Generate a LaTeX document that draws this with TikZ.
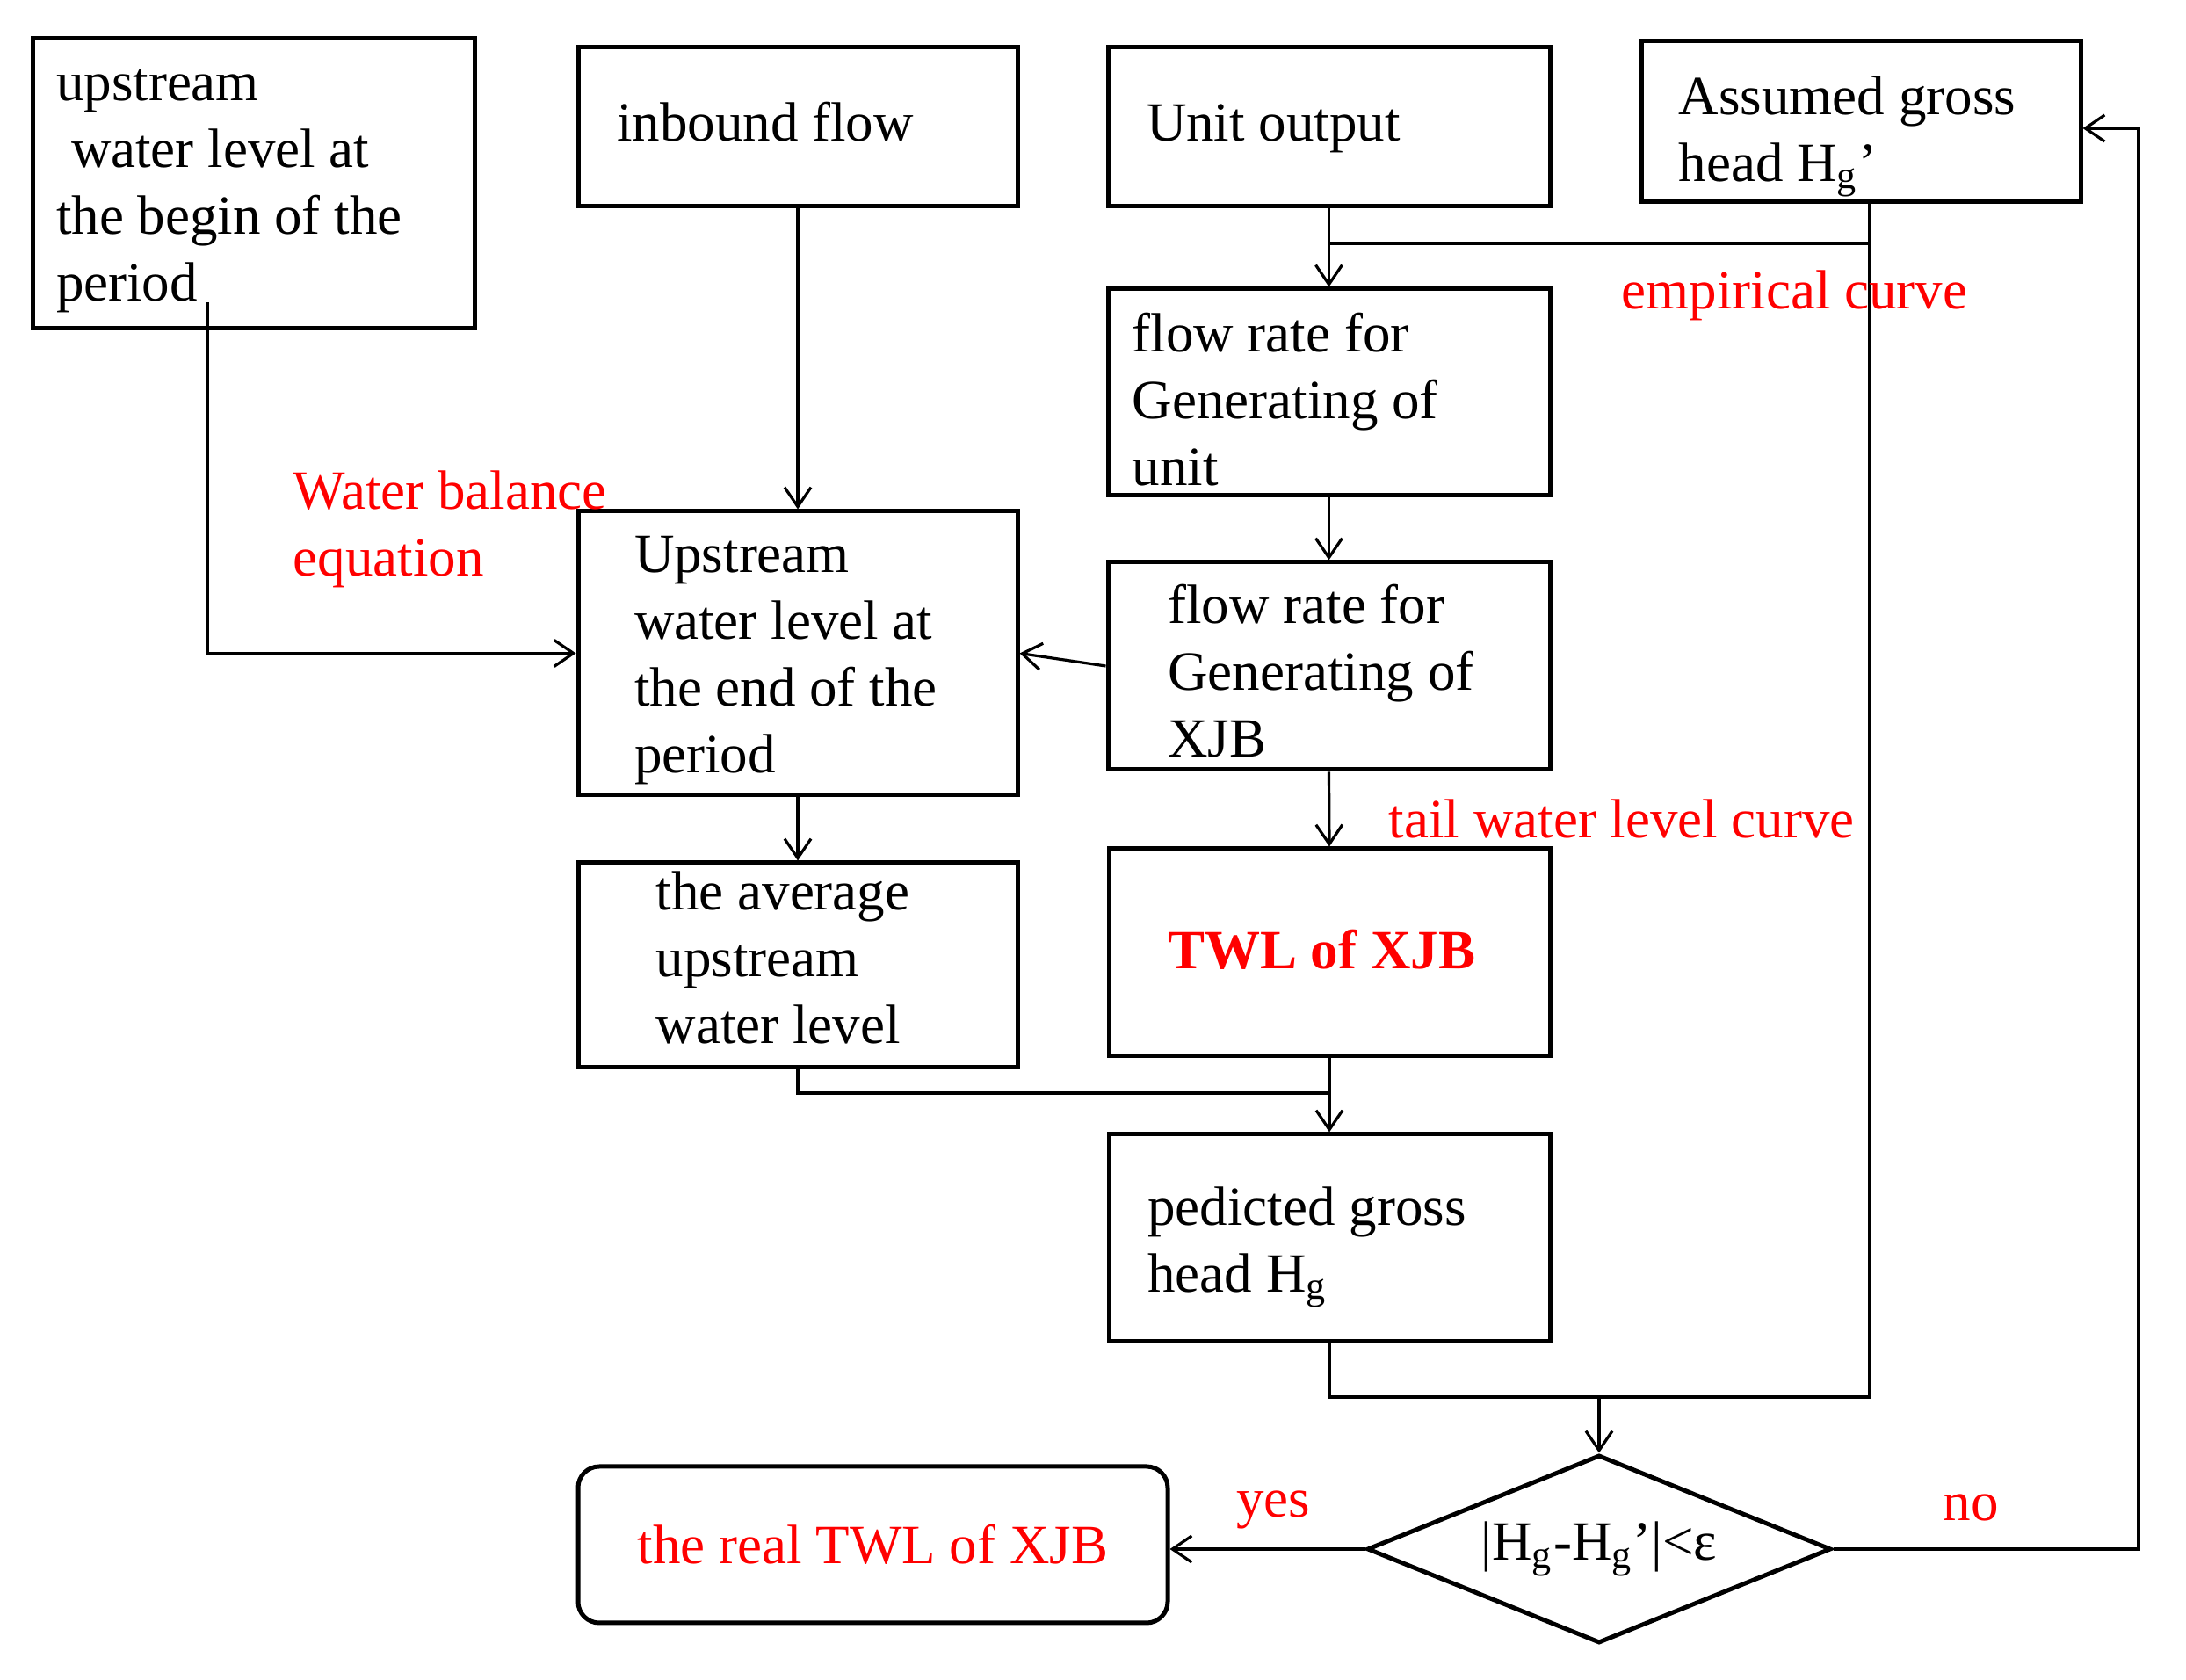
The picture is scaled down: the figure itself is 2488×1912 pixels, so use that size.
\documentclass[tikz,border=0pt]{standalone}
\usepackage{fontspec}
\setmainfont{Liberation Serif}
\usetikzlibrary{arrows.meta,shapes.geometric}
\newcommand\mybx[4]{\makebox[#1][l]{\hspace*{#2}\raisebox{#3}[\height][\depth]{\begin{tabular}{@{}l@{}}#4\end{tabular}}}}
\begin{document}
\begin{tikzpicture}[x=0.25pt,y=-0.25pt,
  every node/.style={font=\fontsize{15.75pt}{19pt}\selectfont},
  box/.style={draw, line width=1.25pt, inner sep=0pt},
  conn/.style={line width=1pt},
  arr/.style={line width=0.8pt,-{Straight Barb[length=5.5pt,width=7.5pt,line width=0.8pt]}},
  lbl/.style={text=red, inner sep=0pt, anchor=west, align=left}]
\useasboundingbox (0,0) rectangle (2488,1912);

\node[box, minimum width=125.75pt, minimum height=82.5pt] (b1) at (288.5,209) {\mybx{125.75pt}{6.75pt}{-1.2pt}{upstream\\\hspace*{4.25pt}water level at\\the begin of the\\period}};
\node[box, minimum width=125pt, minimum height=45.25pt] (inb) at (908,144.5) {\mybx{125pt}{11pt}{-0.3pt}{inbound flow}};
\node[box, minimum width=125.75pt, minimum height=45.25pt] (unit) at (1512.5,144.5) {\mybx{125.75pt}{11pt}{-0.3pt}{Unit output}};
\node[box, minimum width=125pt, minimum height=45.75pt] (asm) at (2118,138.5) {\mybx{125pt}{10.7pt}{-3.6pt}{Assumed gross\\head H\textsubscript{g}’}};
\node[box, minimum width=125.75pt, minimum height=58.75pt] (fu) at (1512.5,446.5) {\mybx{125.75pt}{6.9pt}{-3.6pt}{flow rate for\\Generating of\\unit}};
\node[box, minimum width=125pt, minimum height=80.75pt] (ue) at (908,743.5) {\mybx{125pt}{16pt}{-1.6pt}{Upstream\\water level at\\the end of the\\period}};
\node[box, minimum width=125.75pt, minimum height=59pt] (fx) at (1512.5,758) {\mybx{125.75pt}{17.1pt}{-3.2pt}{flow rate for\\Generating of\\XJB}};
\node[box, minimum width=125pt, minimum height=58.25pt] (avg) at (908,1098.5) {\mybx{125pt}{22.2pt}{0.6pt}{the average\\upstream\\water level}};
\node[box, minimum width=125.5pt, minimum height=59pt, text=red] (twl) at (1513,1084) {\mybx{125.5pt}{16.75pt}{-0.8pt}{\bfseries TWL of XJB}};
\node[box, minimum width=125.5pt, minimum height=59pt] (pred) at (1513,1409) {\mybx{125.5pt}{11.1pt}{-2pt}{pedicted gross\\head H\textsubscript{g}}};
\node[box, rounded corners=6pt, minimum width=167.75pt, minimum height=44.5pt, text=red] (real) at (993.5,1758) {the real TWL of XJB};
\node[draw, diamond, shape aspect=2.47, line width=1.25pt, minimum width=132pt, minimum height=53.5pt, inner sep=0pt] (dia) at (1820,1763) {|H\textsubscript{g}-H\textsubscript{g}’|<ε};

\coordinate (b1s) at (236,344);
\coordinate (j1) at (1512.5,277);
\coordinate (asl) at (2128,230);
\coordinate (abl) at (2128,1590);
\coordinate (j2) at (1513,1244);
\coordinate (ret) at (2434,146);

\draw[arr] (b1s) |- (ue.west);
\draw[arr] (inb.south) -- (ue.north);
\draw[arr] (unit.south) -- (fu.north);
\draw[conn] (j1) -- (j1 -| asl);
\draw[conn] (asl) -- (abl) -- (abl -| pred.south) -- (pred.south);
\draw[arr] (abl -| dia.north) -- (dia.north);
\draw[arr] (fu.south) -- (fx.north);
\draw[arr] (fx.west) -- (ue.east);
\draw[arr] (fx.south) -- (twl.north);
\draw[arr] (ue.south) -- (avg.north);
\draw[conn] (avg.south) |- (j2);
\draw[arr] (twl.south) -- (pred.north);
\draw[arr] (dia.west) -- (dia.west -| real.east);
\draw[arr] (dia.east) -| (ret) -- (ret -| asm.east);

\node[lbl] (wb) at (333,602) {Water balance\\equation};
\node[lbl] (ec) at (1845,336) {empirical curve};
\node[lbl] (tw) at (1580,932) {tail water level curve};
\node[lbl, anchor=center] (yes) at (1449,1718) {yes};
\node[lbl, anchor=center] (no) at (2243,1716) {no};
\end{tikzpicture}
\end{document}
